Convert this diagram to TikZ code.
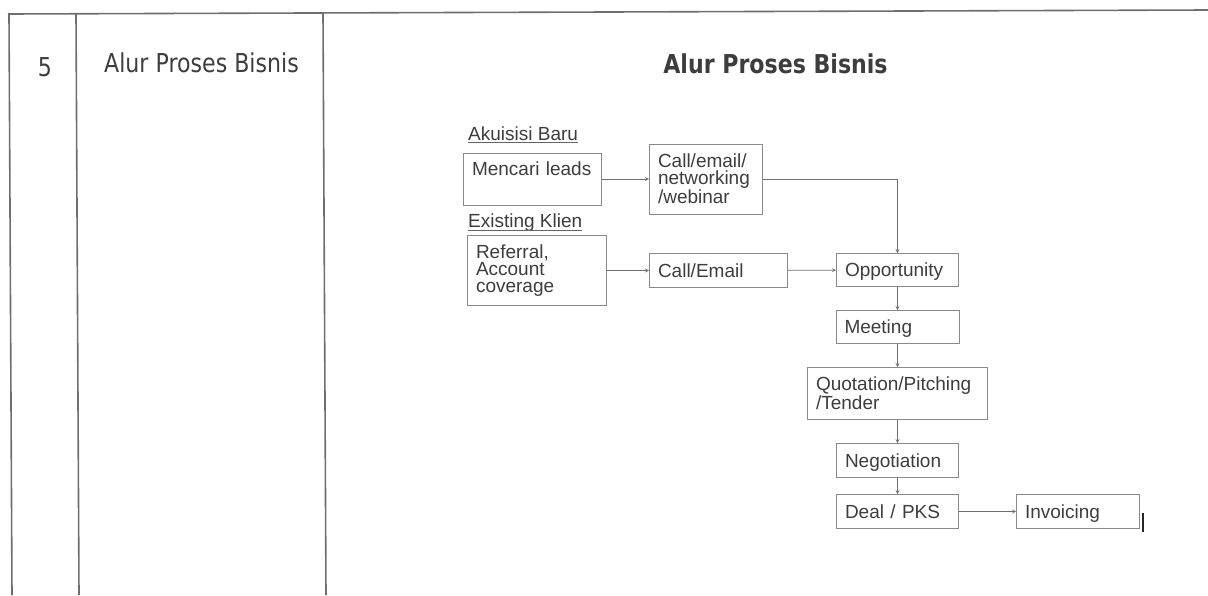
\documentclass[tikz,border=0pt]{standalone}
\usepackage{fontspec}
\setmainfont{Liberation Sans}
\newfontfamily\tahoma[FakeStretch=0.85]{DejaVu Sans}
\usepackage{xcolor}
\usetikzlibrary{positioning, arrows}
\definecolor{teksabu}{HTML}{3D3D3D}
\definecolor{garisabu}{HTML}{8A8A8A}
\definecolor{tabelabu}{HTML}{6E6E6E}
\tikzset{
    >=stealth, % ujung panah
    node distance=57pt, % jarak antar blok pada alur utama
}
\tikzstyle{process} = [rectangle, draw=garisabu, line width=0.8pt, align=left, inner xsep=8.5pt, inner ysep=0pt, text=teksabu, font=\fontsize{19}{17}\selectfont]
\tikzstyle{satu} = [text height=13.5pt, text depth=0pt]
\tikzstyle{arrow} = [line width=0.8pt, draw=garisabu!80!black, ->, >=stealth]
\tikzstyle{subjudul} = [inner sep=0pt, text=teksabu, font=\fontsize{19}{17}\selectfont]
\tikzstyle{garisbawah} = [draw=teksabu!80, line width=0.9pt]
\tikzstyle{judul} = [inner sep=0pt, text=teksabu, font=\tahoma\fontsize{26}{30}\selectfont]
\tikzstyle{garis} = [draw=tabelabu, line width=1.6pt]

\begin{document}
\begin{tikzpicture}[x=1pt, y=-1pt]
    \useasboundingbox (0,0) rectangle (1208,595);

    % Garis tabel
    \draw [garis] (8,14) -- (1208,10);
    \draw [garis] (9,14) -- (12,595);
    \draw [garis] (76,14) -- (79,595);
    \draw [garis] (323,14) -- (326,595);

    % Isi tabel
    \node (nomor) [judul, anchor=base] at (45,76) {5};
    \node (kolom) [judul, anchor=base west] at (104,72) {Alur Proses Bisnis};
    \node (judul) [judul, anchor=base, font=\tahoma\bfseries\fontsize{26}{30}\selectfont] at (775.5,73) {Alur Proses Bisnis};

    % Sumber prospek
    \node (akuisisi) [subjudul, anchor=base west] at (468,140) {Akuisisi Baru};
    \node (leads) [process, text width=121pt, text height=22pt, text depth=30pt] at (532.5,179) {Mencari leads};
    \node (channel) [process, text width=96pt, minimum height=70pt] at (706,179) {Call/email/\\networking\\/webinar};
    \node (existing) [subjudul, anchor=base west] at (468,227) {Existing Klien};
    \node (referral) [process, text width=122pt, minimum height=70pt] at (537,270.5) {Referral,\\Account\\coverage};
    \node (callmail) [process, satu, text width=121pt, minimum height=34pt] at (718.5,270.5) {Call/Email};
    \draw [garisbawah] ([yshift=-2.8pt]akuisisi.base west) -- ([yshift=-2.8pt]akuisisi.base east);
    \draw [garisbawah] ([yshift=-3.2pt]existing.base west) -- ([yshift=-3.2pt]existing.base east);

    % Blok utama
    \node (opp) [process, satu, text width=105pt, minimum height=33pt] at (897.5,270) {Opportunity};
    \node (meet) [process, satu, text width=106pt, minimum height=33pt, below of=opp] {Meeting};
    \node (quote) [process, text width=163pt, minimum height=52pt, below of=meet, yshift=-9.5pt] {Quotation/Pitching\\/Tender};
    \node (nego) [process, satu, text width=105pt, minimum height=34pt, below of=quote, yshift=-10pt] {Negotiation};
    \node (deal) [process, satu, text width=105pt, minimum height=34pt, below of=nego, yshift=6pt] {Deal / PKS};
    \node (invoice) [process, satu, text width=106pt, minimum height=34pt, right of=deal, xshift=123.5pt] {Invoicing};

    % Panah
    \draw [arrow] (leads) -- (channel);
    \draw [arrow] (channel.east) -| (opp.north);
    \draw [arrow] (referral) -- (callmail);
    \draw [arrow] (callmail) -- (opp);
    \draw [arrow] (opp) -- (meet);
    \draw [arrow] (meet) -- (quote);
    \draw [arrow] (quote) -- (nego);
    \draw [arrow] (nego) -- (deal);
    \draw [arrow] (deal) -- (invoice);

    % Bekas tanda di samping blok
    \draw [line width=2.5pt, black!85] (1143,513) -- (1143,532);

\end{tikzpicture}
\end{document}
